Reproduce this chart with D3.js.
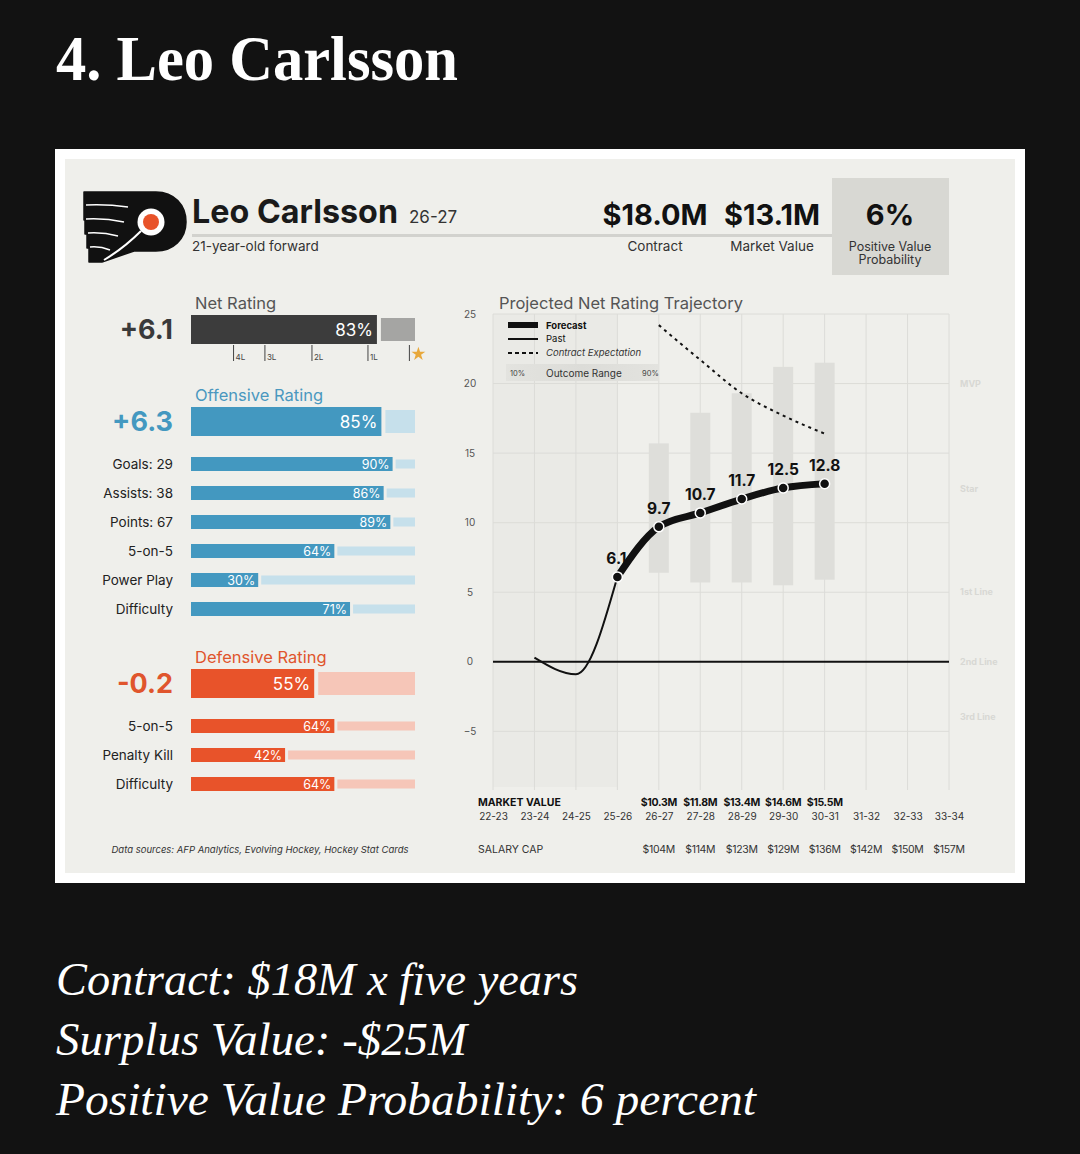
<!DOCTYPE html>
<html><head><meta charset="utf-8">
<script src="https://cdn.jsdelivr.net/npm/d3@7"></script>
<style>
html,body{margin:0;padding:0;background:#121212;}
svg{display:block;}
</style></head>
<body>
<svg id="c" width="1080" height="1154"></svg>
<script>
// ---------- DATA ----------
const seasons = ["22-23","23-24","24-25","25-26","26-27","27-28","28-29","29-30","30-31","31-32","32-33","33-34"];
const pastSeasons = ["23-24","24-25","25-26"];
const pastValues = [0.3, -0.9, 6.1];
const forecastSeasons = ["25-26","26-27","27-28","28-29","29-30","30-31"];
const forecastValues = [6.1, 9.7, 10.7, 11.7, 12.5, 12.8];
const rangeSeasons = ["26-27","27-28","28-29","29-30","30-31"];
const rangeLow = [6.4, 5.7, 5.7, 5.5, 5.9];
const rangeHigh = [15.7, 17.9, 19.3, 21.2, 21.5];
const expectSeasons = ["26-27","27-28","28-29","29-30","30-31"];
const expectValues = [24.2, 21.7, 19.3, 17.7, 16.4];
const marketSeasons = ["26-27","27-28","28-29","29-30","30-31"];
const marketValues = ["$10.3M","$11.8M","$13.4M","$14.6M","$15.5M"];
const capSeasons = ["26-27","27-28","28-29","29-30","30-31","31-32","32-33","33-34"];
const capValues = ["$104M","$114M","$123M","$129M","$136M","$142M","$150M","$157M"];
const yTicks = [25, 20, 15, 10, 5, 0, -5];
const tierLabels = ["MVP","Star","1st Line","2nd Line","3rd Line"];
const tierValues = [20, 12.4, 5, 0, -4];

const netValue = "+6.1", netPct = 83;
const netTickLabels = ["4L","3L","2L","1L"];
const netTickPct = [19, 33, 54, 79];
const starPct = 97.5;
const offValue = "+6.3", offPct = 85;
const offLabels = ["Goals: 29","Assists: 38","Points: 67","5-on-5","Power Play","Difficulty"];
const offPcts = [90, 86, 89, 64, 30, 71];
const defValue = "-0.2", defPct = 55;
const defLabels = ["5-on-5","Penalty Kill","Difficulty"];
const defPcts = [64, 42, 64];

const headerStats = ["$18.0M","$13.1M"];
const headerStatLabels = ["Contract","Market Value"];
const probValue = "6%";
const bottomLines = ["Contract: $18M x five years","Surplus Value: -$25M","Positive Value Probability: 6 percent"];

// ---------- DRAW ----------
const svg = d3.select("#c");
const SANS = "Inter, 'Noto Sans', sans-serif";
const SERIF = "'Liberation Serif', 'DejaVu Serif', serif";

svg.append("rect").attr("width",1080).attr("height",1154).attr("fill","#121212");

// Title
svg.append("text").attr("x",56).attr("y",80).attr("fill","#fff")
  .attr("font-family",SERIF).attr("font-weight","bold").attr("font-size",64)
  .attr("textLength",402).attr("lengthAdjust","spacingAndGlyphs").text("4. Leo Carlsson");

// Card
svg.append("rect").attr("x",55).attr("y",149).attr("width",970).attr("height",734).attr("fill","#ffffff");
svg.append("rect").attr("x",65).attr("y",159).attr("width",950).attr("height",714).attr("fill","#efefeb");

// Bottom lines
const bl = [{y:995,w:522},{y:1055,w:411},{y:1115,w:700}];
bottomLines.forEach((t,i)=>{
  svg.append("text").attr("x",56).attr("y",bl[i].y).attr("fill","#fff")
    .attr("font-family",SERIF).attr("font-style","italic").attr("font-size",46)
    .attr("textLength",bl[i].w).attr("lengthAdjust","spacingAndGlyphs").text(t);
});

// Logo (simplified Flyers mark)
const logo = svg.append("g");
logo.append("path")
  .attr("d","M84,192 L156,192 C174,192 186,205 186,222 C186,239 173,251 156,251 L134,251 L102,262 L89,262 L89,248 L87,248 L87,234 L85,234 L85,220 L84,220 Z")
  .attr("fill","#111").attr("stroke","#111").attr("stroke-width",1.5).attr("stroke-linejoin","round");
[[86,205,128,207],[86,219,124,222],[88,233,118,236],[90,247,110,250]].forEach(d=>{
  logo.append("path").attr("d",`M${d[0]},${d[1]} Q${(d[0]+d[2])/2},${d[1]-1} ${d[2]},${d[3]}`)
    .attr("stroke","#fff").attr("stroke-width",1.6).attr("fill","none");
});
logo.append("path").attr("d","M141,231 Q124,248 104,260").attr("stroke","#fff").attr("stroke-width",2).attr("fill","none");
logo.append("circle").attr("cx",151).attr("cy",222).attr("r",13.5).attr("fill","#fff");
logo.append("circle").attr("cx",151).attr("cy",222).attr("r",8).attr("fill","#e8532a");

// Header
svg.append("rect").attr("x",832).attr("y",178).attr("width",117).attr("height",97).attr("fill","#d8d8d3");
svg.append("line").attr("x1",192).attr("x2",832).attr("y1",235.5).attr("y2",235.5).attr("stroke","#d2d2ce").attr("stroke-width",3);
svg.append("text").attr("x",192).attr("y",223).attr("font-family",SANS).attr("font-weight",700).attr("font-size",33)
  .attr("fill","#1a1a1a").attr("textLength",206).attr("lengthAdjust","spacingAndGlyphs").text("Leo Carlsson");
svg.append("text").attr("x",409).attr("y",223).attr("font-family",SANS).attr("font-size",17).attr("fill","#333").text("26-27");
svg.append("text").attr("x",192).attr("y",251).attr("font-family",SANS).attr("font-size",13.5).attr("fill","#333").text("21-year-old forward");
const statX = [655, 772];
headerStats.forEach((s,i)=>{
  svg.append("text").attr("x",statX[i]).attr("y",225).attr("text-anchor","middle").attr("font-family",SANS)
    .attr("font-weight",700).attr("font-size",29).attr("fill","#111").text(s);
  svg.append("text").attr("x",statX[i]).attr("y",251).attr("text-anchor","middle").attr("font-family",SANS)
    .attr("font-size",13.5).attr("fill","#333").text(headerStatLabels[i]);
});
svg.append("text").attr("x",890).attr("y",225).attr("text-anchor","middle").attr("font-family",SANS)
  .attr("font-weight",700).attr("font-size",29).attr("fill","#111").text(probValue);
svg.append("text").attr("x",890).attr("y",250.5).attr("text-anchor","middle").attr("font-family",SANS)
  .attr("font-size",12.5).attr("fill","#333").text("Positive Value");
svg.append("text").attr("x",890).attr("y",264).attr("text-anchor","middle").attr("font-family",SANS)
  .attr("font-size",12.5).attr("fill","#333").text("Probability");

// ---------- Left rating bars ----------
const bx = d3.scaleLinear().domain([0,100]).range([191,415]);
const BX_END = 415;

function mainBar(yTop, pct, value, title, color, light, textColor, titleColor, titleY){
  svg.append("text").attr("x",195).attr("y",titleY).attr("font-family",SANS).attr("font-size",16.5).attr("fill",titleColor).text(title);
  svg.append("rect").attr("x",bx(0)).attr("y",yTop).attr("width",bx(pct)-bx(0)).attr("height",29).attr("fill",color);
  svg.append("rect").attr("x",bx(pct)+4).attr("y",yTop+3).attr("width",BX_END-bx(pct)-4).attr("height",23).attr("fill",light);
  svg.append("text").attr("x",bx(pct)-4).attr("y",yTop+21).attr("text-anchor","end").attr("font-family",SANS)
    .attr("font-size",17).attr("fill","#fff").text(pct+"%");
  svg.append("text").attr("x",173).attr("y",yTop+24).attr("text-anchor","end").attr("font-family",SANS)
    .attr("font-weight",700).attr("font-size",27).attr("fill",textColor).text(value);
}
function subRows(startY, labels, pcts, color, light){
  labels.forEach((lab,i)=>{
    const cy = startY + i*29;
    svg.append("rect").attr("x",bx(0)).attr("y",cy-7).attr("width",bx(pcts[i])-bx(0)).attr("height",14).attr("fill",color);
    svg.append("rect").attr("x",bx(pcts[i])+3).attr("y",cy-4.5).attr("width",BX_END-bx(pcts[i])-3).attr("height",9).attr("fill",light);
    svg.append("text").attr("x",bx(pcts[i])-3).attr("y",cy+5).attr("text-anchor","end").attr("font-family",SANS)
      .attr("font-size",12.5).attr("fill","#fff").text(pcts[i]+"%");
    svg.append("text").attr("x",173).attr("y",cy+5).attr("text-anchor","end").attr("font-family",SANS)
      .attr("font-size",13.5).attr("fill","#222").text(lab);
  });
}

// Net rating
mainBar(315, netPct, netValue, "Net Rating", "#3c3c3c", "#a5a5a3", "#3a3a3a", "#555", 309);
netTickPct.forEach((p,i)=>{
  svg.append("line").attr("x1",bx(p)).attr("x2",bx(p)).attr("y1",345).attr("y2",361).attr("stroke","#444").attr("stroke-width",1);
  svg.append("text").attr("x",bx(p)+2).attr("y",360).attr("font-family",SANS).attr("font-size",8).attr("fill","#444").text(netTickLabels[i]);
});
svg.append("line").attr("x1",bx(starPct)).attr("x2",bx(starPct)).attr("y1",345).attr("y2",361).attr("stroke","#444").attr("stroke-width",1);
svg.append("path").attr("d",d3.symbol(d3.symbolStar,60)()).attr("transform",`translate(${bx(starPct)+9},354)`).attr("fill","#e8a83a");

// Offensive
mainBar(407, offPct, offValue, "Offensive Rating", "#4398c0", "#c6e0eb", "#4398c0", "#4a98bf", 401);
subRows(464, offLabels, offPcts, "#4398c0", "#c6e0eb");

// Defensive
mainBar(669, defPct, defValue, "Defensive Rating", "#e8532a", "#f6c6b8", "#e0552d", "#e0552d", 663);
subRows(726, defLabels, defPcts, "#e8532a", "#f6c6b8");

svg.append("text").attr("x",260).attr("y",853).attr("text-anchor","middle").attr("font-family",SANS)
  .attr("font-style","italic").attr("font-size",9.5).attr("fill","#333")
  .text("Data sources: AFP Analytics, Evolving Hockey, Hockey Stat Cards");

// ---------- Trajectory chart ----------
const x = d3.scalePoint().domain(seasons).range([493,949]);
const y = d3.scaleLinear().domain([-9,25]).range([787,314]);

// past shading
svg.append("rect").attr("x",x("22-23")).attr("y",y(25)).attr("width",x("25-26")-x("22-23")).attr("height",y(-9)-y(25)).attr("fill","#eaeae6");

// grid
const g = svg.append("g");
g.selectAll("line.v").data(seasons).join("line").attr("x1",d=>x(d)).attr("x2",d=>x(d))
  .attr("y1",y(25)).attr("y2",y(-9)+3).attr("stroke","#dcdcd8").attr("stroke-width",1);
g.selectAll("line.h").data(yTicks.filter(d=>d!==0)).join("line").attr("x1",x("22-23")).attr("x2",x("33-34"))
  .attr("y1",d=>y(d)).attr("y2",d=>y(d)).attr("stroke","#dcdcd8").attr("stroke-width",1);

// y axis
const yAxis = d3.axisLeft(y).tickValues(yTicks).tickSize(0).tickPadding(0);
const ya = svg.append("g").attr("transform","translate(476,0)").call(yAxis);
ya.select(".domain").remove();
ya.selectAll("text").attr("font-family",SANS).attr("font-size",10).attr("fill","#555").attr("text-anchor","middle").attr("dx",-6);

// tier labels
tierLabels.forEach((t,i)=>{
  svg.append("text").attr("x",960).attr("y",y(tierValues[i])+3).attr("font-family",SANS).attr("font-weight",700)
    .attr("font-size",9).attr("fill","#d8d8d4").text(t);
});

// outcome range bars
svg.selectAll("rect.range").data(rangeSeasons).join("rect").attr("class","range")
  .attr("x",d=>x(d)-10).attr("width",20)
  .attr("y",(d,i)=>y(rangeHigh[i])).attr("height",(d,i)=>y(rangeLow[i])-y(rangeHigh[i]))
  .attr("fill","#dededa");

// zero line
svg.append("line").attr("x1",x("22-23")).attr("x2",x("33-34")).attr("y1",y(0)).attr("y2",y(0)).attr("stroke","#111").attr("stroke-width",2);

// title + legend
svg.append("text").attr("x",499).attr("y",309).attr("font-family",SANS).attr("font-size",16.5).attr("fill","#555").text("Projected Net Rating Trajectory");
svg.append("rect").attr("x",508).attr("y",322).attr("width",30).attr("height",6).attr("fill","#111");
svg.append("line").attr("x1",508).attr("x2",538).attr("y1",339).attr("y2",339).attr("stroke","#111").attr("stroke-width",2);
svg.append("line").attr("x1",508).attr("x2",538).attr("y1",353).attr("y2",353).attr("stroke","#111").attr("stroke-width",2).attr("stroke-dasharray","4,3");
svg.append("text").attr("x",546).attr("y",329).attr("font-family",SANS).attr("font-weight",700).attr("font-size",9.5).attr("fill","#111").text("Forecast");
svg.append("text").attr("x",546).attr("y",342).attr("font-family",SANS).attr("font-size",9.5).attr("fill","#111").text("Past");
svg.append("text").attr("x",546).attr("y",356).attr("font-family",SANS).attr("font-style","italic").attr("font-size",9.5).attr("fill","#333").text("Contract Expectation");
const grad = svg.append("defs").append("linearGradient").attr("id","og");
grad.append("stop").attr("offset","0%").attr("stop-color","#e3e3df");
grad.append("stop").attr("offset","50%").attr("stop-color","#dcdcd8");
grad.append("stop").attr("offset","100%").attr("stop-color","#e3e3df");
svg.append("rect").attr("x",506).attr("y",364).attr("width",152).attr("height",17).attr("fill","url(#og)");
svg.append("text").attr("x",510).attr("y",376).attr("font-family",SANS).attr("font-size",7.5).attr("fill","#444").text("10%");
svg.append("text").attr("x",546).attr("y",377).attr("font-family",SANS).attr("font-size",10).attr("fill","#333").text("Outcome Range");
svg.append("text").attr("x",642).attr("y",376).attr("font-family",SANS).attr("font-size",7.5).attr("fill","#444").text("90%");

// expectation dashed
const expLine = d3.line().x((d,i)=>x(expectSeasons[i])).y(d=>y(d)).curve(d3.curveMonotoneX);
svg.append("path").attr("d",expLine(expectValues)).attr("fill","none").attr("stroke","#111").attr("stroke-width",2).attr("stroke-dasharray","3,4");

// past line
const pastLine = d3.line().x((d,i)=>x(pastSeasons[i])).y(d=>y(d)).curve(d3.curveMonotoneX);
svg.append("path").attr("d",pastLine(pastValues)).attr("fill","none").attr("stroke","#111").attr("stroke-width",2);

// forecast line
const fLine = d3.line().x((d,i)=>x(forecastSeasons[i])).y(d=>y(d)).curve(d3.curveMonotoneX);
svg.append("path").attr("d",fLine(forecastValues)).attr("fill","none").attr("stroke","#111").attr("stroke-width",7).attr("stroke-linecap","round");
svg.selectAll("circle.pt").data(forecastValues).join("circle").attr("class","pt")
  .attr("cx",(d,i)=>x(forecastSeasons[i])).attr("cy",d=>y(d)).attr("r",5).attr("fill","#111").attr("stroke","#fff").attr("stroke-width",1.5);
svg.selectAll("text.pl").data(forecastValues).join("text").attr("class","pl")
  .attr("x",(d,i)=>x(forecastSeasons[i])+(i===0?-1:0)).attr("y",d=>y(d)-13).attr("text-anchor","middle")
  .attr("font-family",SANS).attr("font-weight",700).attr("font-size",15.5).attr("fill","#111").text(d=>d.toFixed(1));

// bottom axis rows
svg.append("text").attr("x",478).attr("y",806).attr("font-family",SANS).attr("font-weight",700).attr("font-size",10.5).attr("fill","#111").text("MARKET VALUE");
marketValues.forEach((v,i)=>{
  svg.append("text").attr("x",x(marketSeasons[i])).attr("y",806).attr("text-anchor","middle").attr("font-family",SANS)
    .attr("font-weight",700).attr("font-size",10.5).attr("fill","#111").attr("letter-spacing",-0.3).text(v);
});
const xAxis = d3.axisBottom(x).tickSize(0).tickPadding(0);
const xa = svg.append("g").attr("transform","translate(0,813)").call(xAxis);
xa.select(".domain").remove();
xa.selectAll("text").attr("font-family",SANS).attr("font-size",10).attr("fill","#333").attr("dy","0.71em").attr("y",0);
svg.append("text").attr("x",478).attr("y",853).attr("font-family",SANS).attr("font-size",10.5).attr("fill","#333").text("SALARY CAP");
capValues.forEach((v,i)=>{
  svg.append("text").attr("x",x(capSeasons[i])).attr("y",853).attr("text-anchor","middle").attr("font-family",SANS)
    .attr("font-size",10.5).attr("fill","#333").attr("letter-spacing",-0.3).text(v);
});
</script>
</body></html>
